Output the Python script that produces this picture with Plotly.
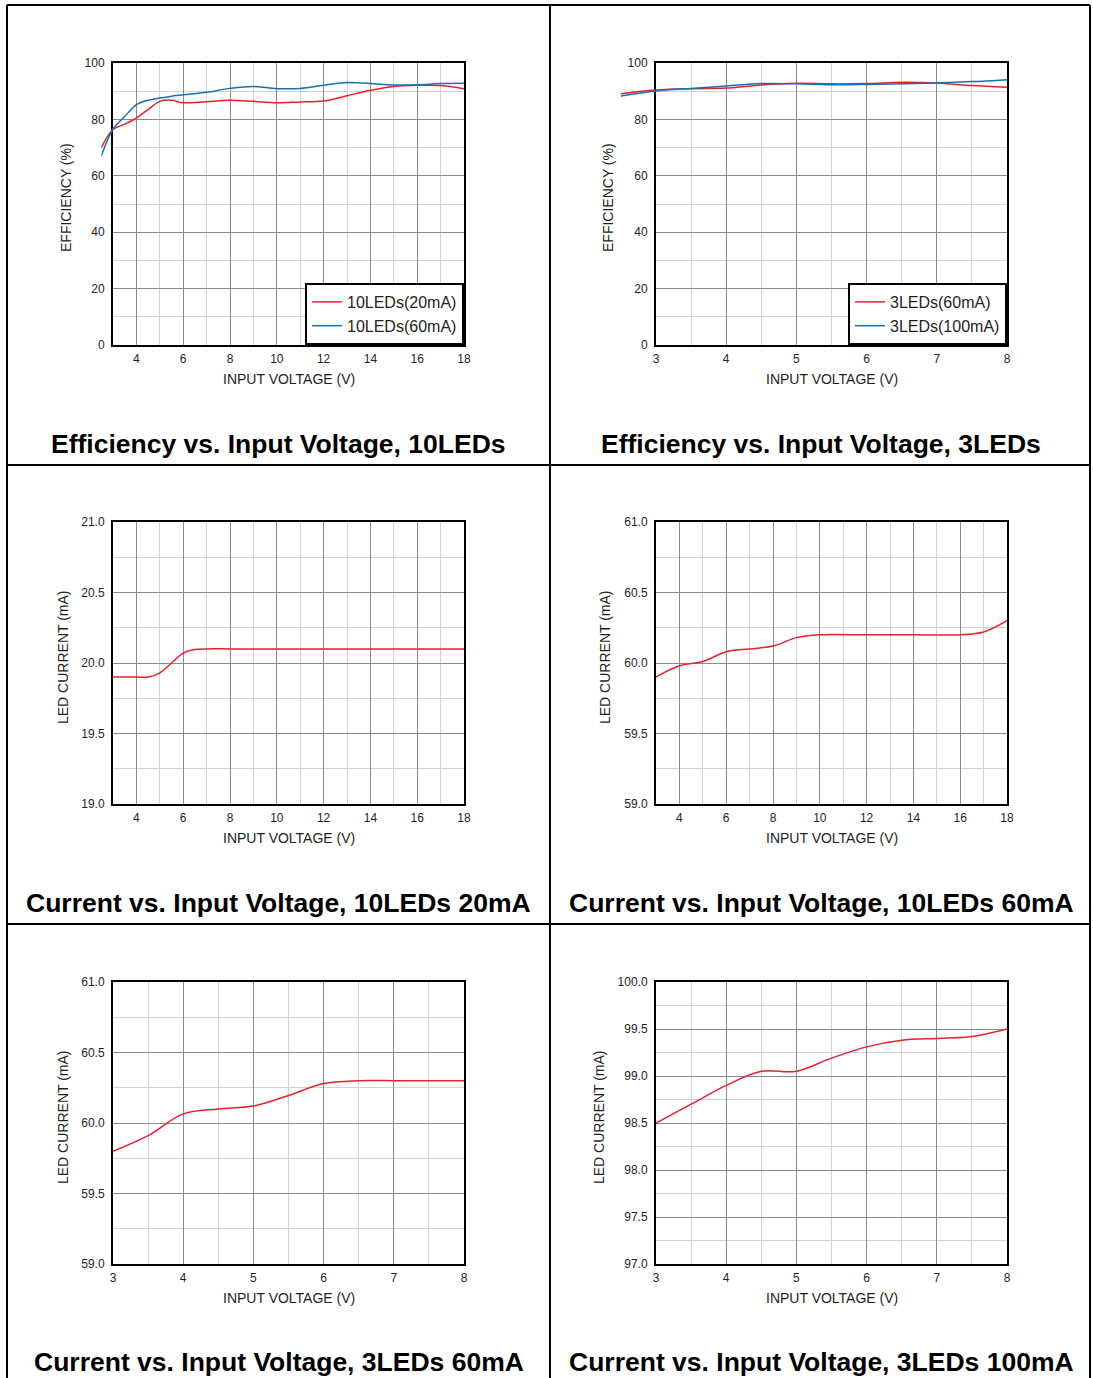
import plotly.graph_objects as go

W, H = 1093, 1378
FONT = "Liberation Sans, Arial, Helvetica, sans-serif"
RED = "#e8212b"
BLUE = "#1471b8"
MAJOR = "#8a8a8a"
MINOR = "#d2d2d2"

# ---------------- data ----------------
eff10_v = [2.5, 3, 3.5, 4, 4.5, 5, 5.5, 6, 7, 8, 9, 10, 11, 12, 13, 14, 15, 16, 17, 18]
eff10_20mA = [70, 76.4, 78.3, 80.5, 83.5, 86.4, 86.8, 85.9, 86.3, 86.8, 86.4, 85.9, 86.2, 86.5,
              88.4, 90.3, 91.7, 92.1, 92.0, 90.9]
eff10_60mA = [67, 76.6, 81, 85.2, 86.8, 87.6, 88.2, 88.7, 89.6, 91.0, 91.7, 90.9, 91.0, 92.1,
              93.1, 92.7, 92.2, 92.3, 92.7, 92.8]

eff3_v = [2.5, 3, 3.5, 4, 4.5, 5, 5.5, 6, 6.5, 7, 7.5, 8]
eff3_60mA = [89.1, 90.4, 90.9, 91.1, 92.2, 92.8, 92.6, 92.7, 93.2, 92.9, 92.0, 91.4]
eff3_100mA = [88.3, 90.1, 91.0, 91.8, 92.7, 92.6, 92.3, 92.4, 92.6, 92.9, 93.4, 94.1]

cur10_20_v = [3, 4, 4.5, 5, 5.5, 6, 6.5, 7, 8, 10, 12, 14, 16, 18]
cur10_20 = [19.9, 19.9, 19.9, 19.93, 20.0, 20.07, 20.095, 20.1, 20.1, 20.1, 20.1, 20.1, 20.1, 20.1]

cur10_60_v = [3, 4, 5, 6, 7, 8, 9, 10, 12, 14, 16, 17, 18]
cur10_60 = [59.9, 59.98, 60.01, 60.08, 60.10, 60.12, 60.18, 60.2, 60.2, 60.2, 60.2, 60.22, 60.3]

cur3_60_v = [3, 3.5, 4, 4.5, 5, 5.5, 6, 6.5, 7, 7.5, 8]
cur3_60 = [59.8, 59.91, 60.065, 60.10, 60.12, 60.195, 60.28, 60.3, 60.3, 60.3, 60.3]

cur3_100_v = [3, 3.5, 4, 4.5, 5, 5.5, 6, 6.5, 7, 7.5, 8]
cur3_100 = [98.5, 98.7, 98.9, 99.05, 99.05, 99.19, 99.31, 99.38, 99.4, 99.42, 99.5]

titles = ["Efficiency vs. Input Voltage, 10LEDs", "Efficiency vs. Input Voltage, 3LEDs",
          "Current vs. Input Voltage, 10LEDs 20mA", "Current vs. Input Voltage, 10LEDs 60mA",
          "Current vs. Input Voltage, 3LEDs 60mA", "Current vs. Input Voltage, 3LEDs 100mA"]
xlabel = "INPUT VOLTAGE (V)"
ylabels = ["EFFICIENCY (%)", "EFFICIENCY (%)", "LED CURRENT (mA)", "LED CURRENT (mA)",
           "LED CURRENT (mA)", "LED CURRENT (mA)"]

# ---------------- layout geometry (pixels) ----------------
cols = [(113, 464), (656, 1007)]
rows = [(63, 345), (522, 804), (982, 1264)]


def px(x):
    return x / W


def py(y):
    return 1 - y / H


xranges = [[3, 18], [3, 8], [3, 18], [3, 18], [3, 8], [3, 8]]
xdt = [2, 1, 2, 2, 1, 1]
xminor = [1, 0.5, 1, 1, 0.5, 0.5]
yranges = [[0, 100], [0, 100], [19, 21], [59, 61], [59, 61], [97, 100]]
ydt = [20, 20, 0.5, 0.5, 0.5, 0.5]
yminor = [10, 10, 0.25, 0.25, 0.25, 0.25]
yfmt = ["d", "d", ".1f", ".1f", ".1f", ".1f"]
ytitle_x = [66, 608, 63, 605, 63, 599]

fig = go.Figure()
layout = dict(width=W, height=H, margin=dict(l=0, r=0, t=0, b=0, autoexpand=False),
              paper_bgcolor="white", plot_bgcolor="rgba(0,0,0,0)",
              font=dict(family=FONT, color="#231f20"), showlegend=True)

annotations = []
shapes = []
tickfont = dict(family=FONT, size=12, color="#231f20")

for i in range(6):
    c, r = cols[i % 2], rows[i // 2]
    n = i + 1
    layout[f"xaxis{n}" if n > 1 else "xaxis"] = dict(
        domain=[px(c[0]), px(c[1])], range=xranges[i], anchor=f"y{n}" if n > 1 else "y",
        dtick=xdt[i], tick0=0, showgrid=True, gridcolor=MAJOR, gridwidth=1.2,
        minor=dict(dtick=xminor[i], tick0=0, showgrid=True, gridcolor=MINOR, gridwidth=1.2),
        showline=True, linecolor="black", linewidth=2, mirror=True, zeroline=False,
        ticks="", tickfont=tickfont, ticklabelstandoff=2, fixedrange=True)
    layout[f"yaxis{n}" if n > 1 else "yaxis"] = dict(
        domain=[py(r[1]), py(r[0])], range=yranges[i], anchor=f"x{n}" if n > 1 else "x",
        dtick=ydt[i], tick0=0, tickformat=yfmt[i], showgrid=True, gridcolor=MAJOR, gridwidth=1.2,
        minor=dict(dtick=yminor[i], tick0=0, showgrid=True, gridcolor=MINOR, gridwidth=1.2),
        showline=True, linecolor="black", linewidth=2, mirror=True, zeroline=False,
        ticks="", tickfont=tickfont, ticklabelstandoff=4, fixedrange=True)
    # axis titles
    annotations.append(dict(text=xlabel, x=px((c[0] + c[1]) / 2), y=py(r[1] + 34),
                            xref="paper", yref="paper", showarrow=False,
                            xanchor="center", yanchor="middle",
                            font=dict(size=14, family=FONT, color="#231f20")))
    annotations.append(dict(text=ylabels[i], x=px(ytitle_x[i]), y=py((r[0] + r[1]) / 2 - 6),
                            xref="paper", yref="paper", showarrow=False, textangle=-90,
                            xanchor="center", yanchor="middle",
                            font=dict(size=14, family=FONT, color="#231f20")))
    # panel titles
    cx = 278.5 if i % 2 == 0 else 821
    annotations.append(dict(text=f"<b>{titles[i]}</b>", x=px(cx), y=py([444, 903, 1362][i // 2]),
                            xref="paper", yref="paper", showarrow=False,
                            xanchor="center", yanchor="middle",
                            font=dict(size=26.5, family=FONT, color="black")))

# separate invisible axes so the efficiency curves can start at 2.5 V, left of the frame
for n, c, rng, yr in [(7, cols[0], [2.5, 18], rows[0]), (8, cols[1], [2.5, 8], rows[0])]:
    ppu = (c[1] - c[0]) / (rng[1] - 3)
    left = c[0] - (3 - rng[0]) * ppu
    layout[f"xaxis{n}"] = dict(domain=[px(left), px(c[1])], range=rng, anchor=f"y{n}",
                               visible=False, showgrid=False, zeroline=False, fixedrange=True)
    layout[f"yaxis{n}"] = dict(domain=[py(yr[1]), py(yr[0])], range=[0, 100], anchor=f"x{n}",
                               visible=False, showgrid=False, zeroline=False, fixedrange=True)

line = lambda col: dict(color=col, width=1.5, shape="spline", smoothing=1.0)

# placeholder traces (no drawn marks) so the framed efficiency axes get a subplot
for xa, ya in [("x", "y"), ("x2", "y2")]:
    fig.add_trace(go.Scatter(x=[None], y=[None], mode="lines", showlegend=False,
                             hoverinfo="skip", xaxis=xa, yaxis=ya))

fig.add_trace(go.Scatter(x=eff10_v, y=eff10_20mA, mode="lines", name="10LEDs(20mA)",
                         line=line(RED), xaxis="x7", yaxis="y7", legend="legend"))
fig.add_trace(go.Scatter(x=eff10_v, y=eff10_60mA, mode="lines", name="10LEDs(60mA)",
                         line=line(BLUE), xaxis="x7", yaxis="y7", legend="legend"))
fig.add_trace(go.Scatter(x=eff3_v, y=eff3_60mA, mode="lines", name="3LEDs(60mA)",
                         line=line(RED), xaxis="x8", yaxis="y8", legend="legend2"))
fig.add_trace(go.Scatter(x=eff3_v, y=eff3_100mA, mode="lines", name="3LEDs(100mA)",
                         line=line(BLUE), xaxis="x8", yaxis="y8", legend="legend2"))
fig.add_trace(go.Scatter(x=cur10_20_v, y=cur10_20, mode="lines", showlegend=False,
                         line=line(RED), xaxis="x3", yaxis="y3"))
fig.add_trace(go.Scatter(x=cur10_60_v, y=cur10_60, mode="lines", showlegend=False,
                         line=line(RED), xaxis="x4", yaxis="y4"))
fig.add_trace(go.Scatter(x=cur3_60_v, y=cur3_60, mode="lines", showlegend=False,
                         line=line(RED), xaxis="x5", yaxis="y5"))
fig.add_trace(go.Scatter(x=cur3_100_v, y=cur3_100, mode="lines", showlegend=False,
                         line=line(RED), xaxis="x6", yaxis="y6"))

legend_style = dict(bgcolor="white", bordercolor="black", borderwidth=2,
                    font=dict(size=16, family=FONT, color="#231f20"),
                    xanchor="right", yanchor="bottom", xref="paper", yref="paper",
                    tracegroupgap=0, itemclick=False, itemdoubleclick=False)
layout["legend"] = dict(x=px(cols[0][1]), y=py(rows[0][1]), **legend_style)
layout["legend2"] = dict(x=px(cols[1][1]), y=py(rows[0][1]), **legend_style)

# table borders
bl = dict(color="black", width=2)
for x in [7, 550, 1090]:
    shapes.append(dict(type="line", xref="paper", yref="paper", x0=px(x), x1=px(x),
                       y0=py(5), y1=py(H), line=bl))
for y in [5, 465, 924]:
    shapes.append(dict(type="line", xref="paper", yref="paper", x0=px(7), x1=px(1090),
                       y0=py(y), y1=py(y), line=bl))

layout["annotations"] = annotations
layout["shapes"] = shapes
fig.update_layout(**layout)
fig.write_html("out.html", config={"displayModeBar": False},
               post_script="document.body.style.margin='0';document.body.style.overflow='hidden';")
